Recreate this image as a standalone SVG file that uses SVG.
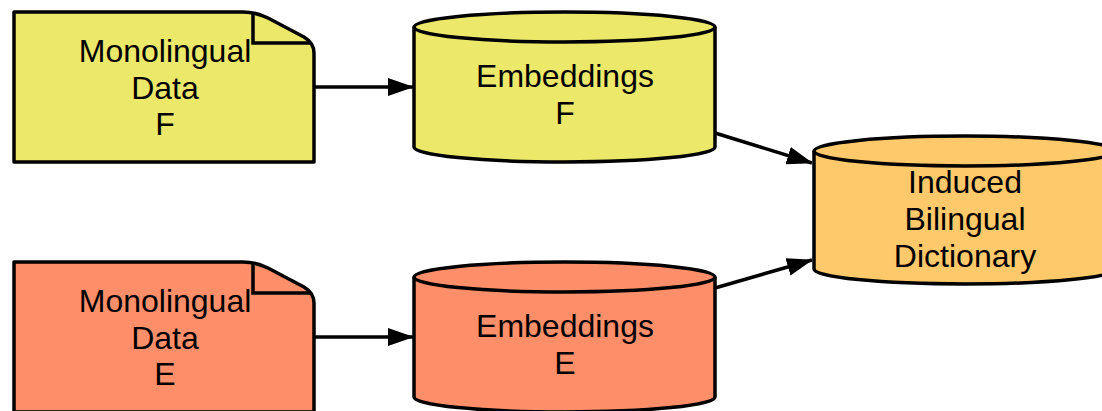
<svg xmlns="http://www.w3.org/2000/svg" width="1102" height="411" viewBox="0 0 1102 411">
<defs>
<style>
.s{stroke:#000;stroke-width:3.5;stroke-linejoin:round}
.y{fill:#EBE86A}.r{fill:#FC8F6A}.o{fill:#FDC96A}
.t{font-family:"Liberation Sans",Arial,sans-serif;font-size:32px;fill:#000;text-anchor:middle}
.c{stroke:#000;stroke-width:3.5;fill:none}
</style>
<marker id="ah" viewBox="0 0 26 18" refX="25" refY="9" markerWidth="26" markerHeight="18" markerUnits="userSpaceOnUse" orient="auto">
<path d="M0,0 L26,9 L0,18 Z" fill="#000"/>
</marker>
</defs>
<g id="connectors">
<line class="c" x1="314" y1="87" x2="413" y2="87" marker-end="url(#ah)"/>
<line class="c" x1="314" y1="337" x2="413" y2="337" marker-end="url(#ah)"/>
<line class="c" x1="715" y1="133" x2="812" y2="163" marker-end="url(#ah)"/>
<line class="c" x1="715" y1="288" x2="812" y2="260" marker-end="url(#ah)"/>
</g>
<g id="docF">
<path class="s y" d="M14,12 H243 Q256,12 268,18 L304,37 Q314,43 314,53 V162 H14 Z"/>
<path class="c" d="M253,13 V43 H311"/>
<text class="t" x="165" y="62">Monolingual</text>
<text class="t" x="165" y="99">Data</text>
<text class="t" x="165" y="135">F</text>
</g>
<g id="docE">
<path class="s r" d="M14,262 H243 Q256,262 268,268 L304,287 Q314,293 314,303 V412 H14 Z"/>
<path class="c" d="M253,263 V293 H311"/>
<text class="t" x="165" y="312">Monolingual</text>
<text class="t" x="165" y="349">Data</text>
<text class="t" x="165" y="385">E</text>
</g>
<g id="embF">
<path class="s y" d="M414,27 V147 A150.5,15 0 0 0 715,147 V27 A150.5,15 0 0 0 414,27 Z"/>
<path class="c" d="M414,27 A150.5,15 0 0 0 715,27"/>
<text class="t" x="565" y="87">Embeddings</text>
<text class="t" x="565" y="124">F</text>
</g>
<g id="embE">
<path class="s r" d="M414,277 V397 A150.5,15 0 0 0 715,397 V277 A150.5,15 0 0 0 414,277 Z"/>
<path class="c" d="M414,277 A150.5,15 0 0 0 715,277"/>
<text class="t" x="565" y="337">Embeddings</text>
<text class="t" x="565" y="374">E</text>
</g>
<g id="dict">
<path class="s o" d="M814,151 V269 A151,15 0 0 0 1116,269 V151 A151,15 0 0 0 814,151 Z"/>
<path class="c" d="M814,151 A151,15 0 0 0 1116,151"/>
<text class="t" x="965" y="193">Induced</text>
<text class="t" x="965" y="230">Bilingual</text>
<text class="t" x="965" y="267">Dictionary</text>
</g>
</svg>
